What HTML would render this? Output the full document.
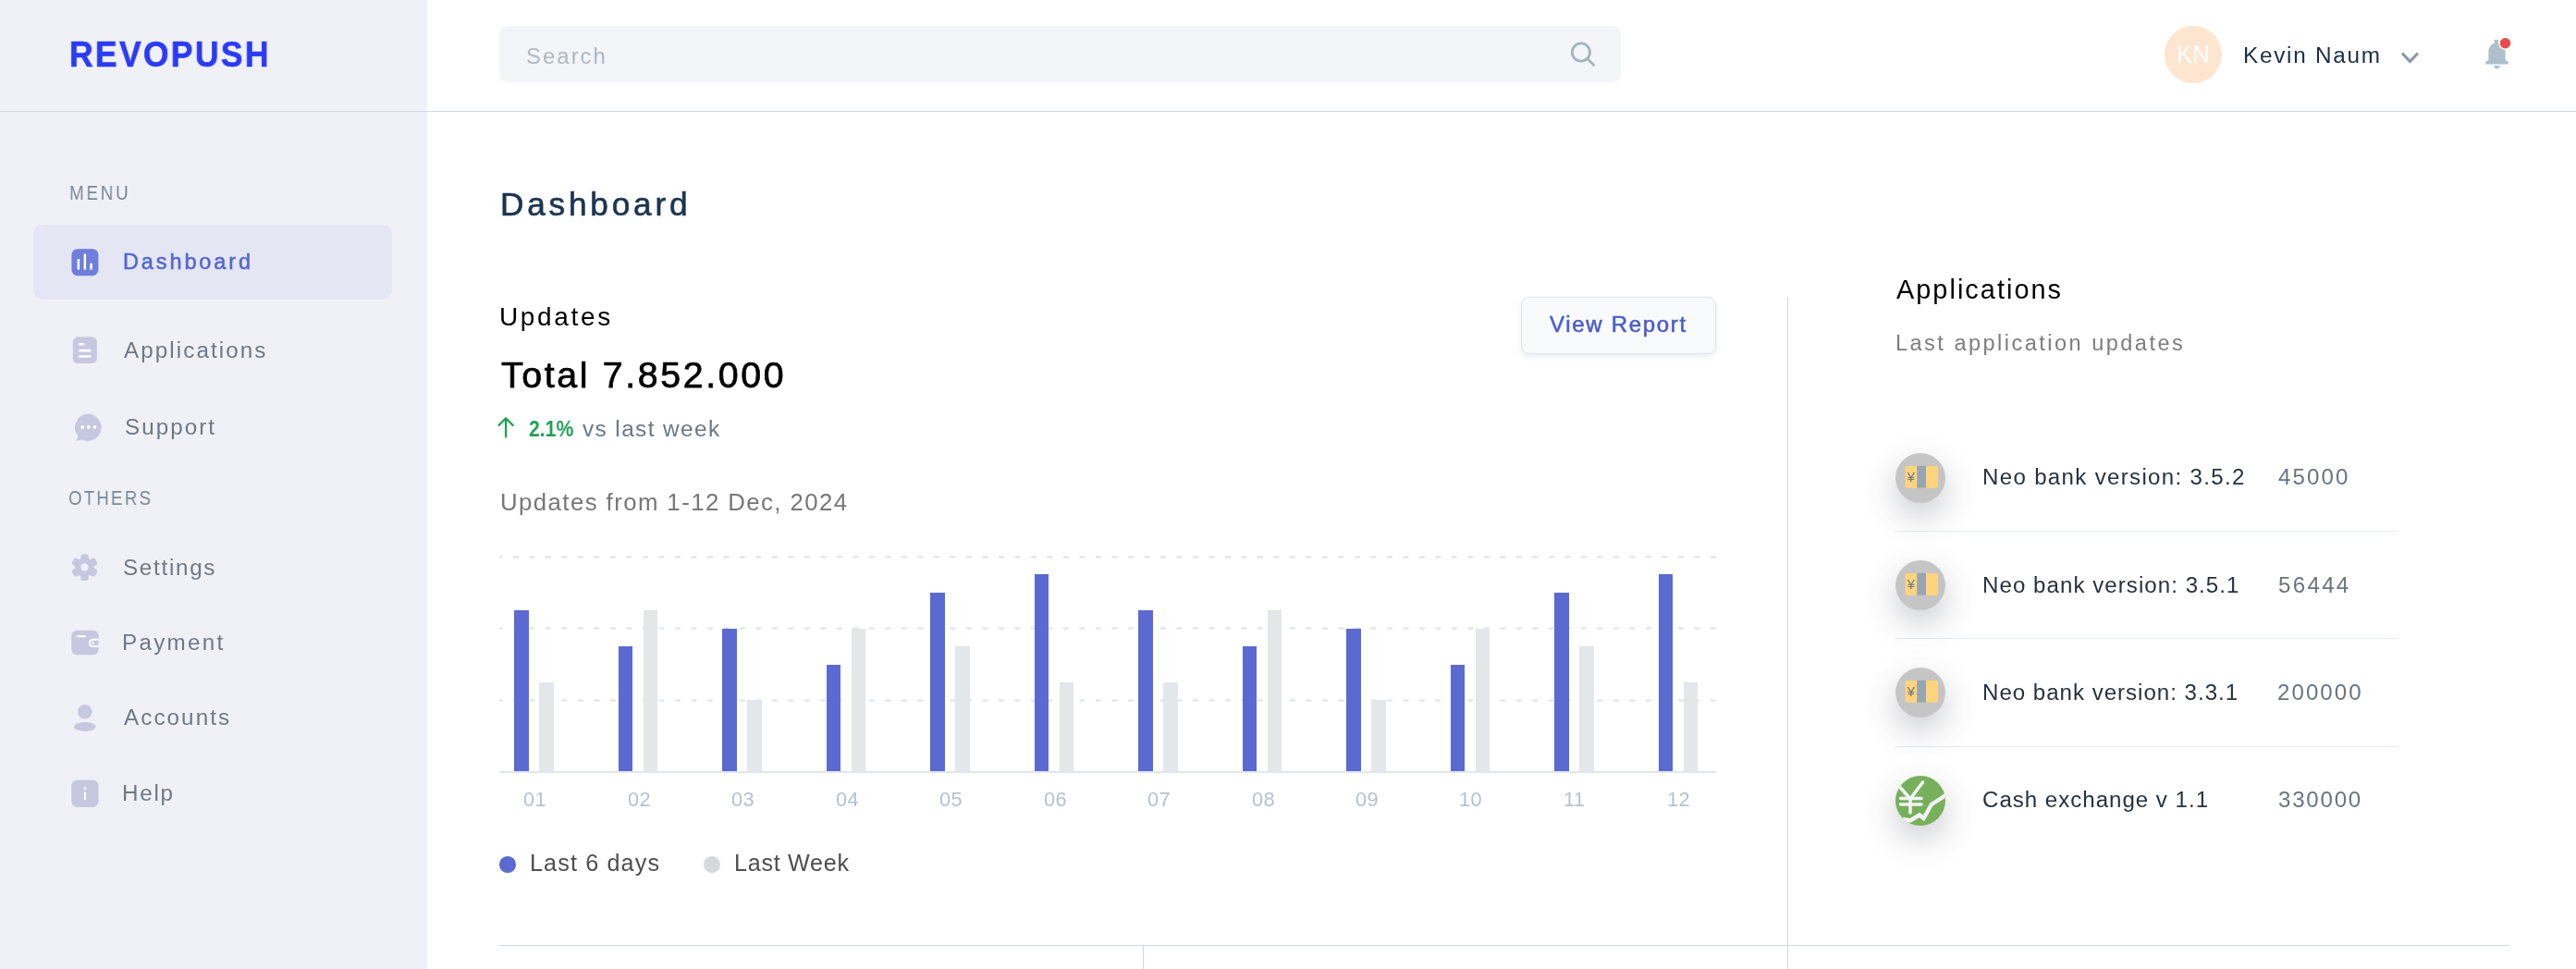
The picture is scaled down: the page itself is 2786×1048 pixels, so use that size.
<!DOCTYPE html>
<html><head><meta charset="utf-8"><title>Revopush Dashboard</title>
<style>
html,body{margin:0;padding:0;}
body{width:2786px;height:1048px;overflow:hidden;position:relative;background:#FFFFFF;font-family:"Liberation Sans",sans-serif;}
.t{position:absolute;white-space:nowrap;will-change:transform;}
.a{position:absolute;}
</style></head><body>
<div class="a" style="left:0;top:0;width:462px;height:1048px;background:#F0F1F6"></div>
<div class="a" style="left:0;top:119.5px;width:2786px;height:1.2px;background:#D3D8E1"></div>
<div class="a" style="left:540px;top:28px;width:1213px;height:61px;border-radius:9px;background:#F3F5F9"></div>
<svg class="a" style="left:1696px;top:42px" width="34" height="34" viewBox="0 0 34 34"><circle cx="13.9" cy="14.5" r="9.6" fill="none" stroke="#A7B4BD" stroke-width="2.8"/><line x1="20.8" y1="21.6" x2="27.6" y2="28.3" stroke="#A7B4BD" stroke-width="2.8" stroke-linecap="round"/></svg>
<div class="a" style="left:2341px;top:27.5px;width:62px;height:62px;border-radius:50%;background:#FDE5CF"></div>
<svg class="a" style="left:2594px;top:52px" width="26" height="20" viewBox="0 0 26 20"><polyline points="4,5.5 12.5,14.5 21,5.5" fill="none" stroke="#8A9AA8" stroke-width="3.2"/></svg>
<svg class="a" style="left:2684px;top:38px" width="40" height="40" viewBox="0 0 40 40"><path d="M13.6,5.1 H17.9 V8.9 C22.5,9.5 25.6,13 25.6,18 V27.3 L28.7,28.4 V31.6 H4.3 V28.4 L7.4,27.3 V18 C7.4,13 10,9.5 13.6,8.9 Z" fill="#AFC0CA"/><path d="M13.2,33 H19.7 A3.25,3.3 0 0 1 13.2,33 Z" fill="#AFC0CA"/><circle cx="25.5" cy="8.7" r="7.2" fill="#FFFFFF"/><circle cx="25.5" cy="8.7" r="5.7" fill="#E94B4B"/></svg>
<div class="a" style="left:36px;top:243px;width:388px;height:81px;border-radius:11px;background:#E4E6F3"></div>
<svg class="a" style="left:77px;top:269px" width="30" height="30" viewBox="0 0 30 30"><rect x="0.4" y="0.2" width="29" height="29" rx="6.5" fill="#6E7EDB"/><rect x="6.6" y="11" width="2.5" height="11.7" rx="0.6" fill="#fff"/><rect x="13.6" y="5.6" width="2.5" height="17.1" rx="0.6" fill="#fff"/><rect x="20.3" y="15.7" width="2.6" height="7" rx="0.6" fill="#fff"/></svg>
<svg class="a" style="left:78px;top:364px" width="28" height="30" viewBox="0 0 28 30"><rect x="0.8" y="0.3" width="26" height="28.6" rx="5.5" fill="#C6C8E0"/><rect x="6.8" y="7" width="6.5" height="2.6" rx="1.3" fill="#fff"/><rect x="6.8" y="13.8" width="13.8" height="2.6" rx="1.3" fill="#fff"/><rect x="6.8" y="20.2" width="13.8" height="2.6" rx="1.3" fill="#fff"/></svg>
<svg class="a" style="left:80px;top:447px" width="32" height="32" viewBox="0 0 32 32"><path d="M15.8,0.6 A14.7,14.7 0 1 1 8.5,28.5 L2.3,30 L4.6,24.8 A14.7,14.7 0 0 1 15.8,0.6 Z" fill="#C6C8E0"/><circle cx="9.2" cy="15" r="1.9" fill="#fff"/><circle cx="15.8" cy="15" r="1.9" fill="#fff"/><circle cx="22.4" cy="15" r="1.9" fill="#fff"/></svg>
<svg class="a" style="left:77px;top:599px" width="30" height="30" viewBox="0 0 30 30"><g fill="#C6C8E0" transform="translate(14.5 14.6)"><rect x="-4.2" y="-14.4" width="8.4" height="9" rx="2.6" transform="rotate(0)"/><rect x="-4.2" y="-14.4" width="8.4" height="9" rx="2.6" transform="rotate(60)"/><rect x="-4.2" y="-14.4" width="8.4" height="9" rx="2.6" transform="rotate(120)"/><rect x="-4.2" y="-14.4" width="8.4" height="9" rx="2.6" transform="rotate(180)"/><rect x="-4.2" y="-14.4" width="8.4" height="9" rx="2.6" transform="rotate(240)"/><rect x="-4.2" y="-14.4" width="8.4" height="9" rx="2.6" transform="rotate(300)"/><circle r="10.3"/></g><circle cx="14.5" cy="14.6" r="4.1" fill="#F0F1F6"/></svg>
<svg class="a" style="left:77px;top:681px" width="30" height="28" viewBox="0 0 30 28"><rect x="0.2" y="0.7" width="29.4" height="26.5" rx="6" fill="#C6C8E0"/><rect x="6" y="6.3" width="10" height="2" rx="1" fill="#fff"/><path d="M29.6,10.8 H23.5 a3.6,3.6 0 0 0 0,7.2 H29.6" fill="none" stroke="#fff" stroke-width="2"/><circle cx="23.5" cy="14.4" r="1.2" fill="#fff"/></svg>
<svg class="a" style="left:77px;top:760px" width="30" height="34" viewBox="0 0 30 34"><circle cx="14.8" cy="9.8" r="7.7" fill="#C6C8E0"/><ellipse cx="14.8" cy="26" rx="11.8" ry="5" fill="#C6C8E0"/></svg>
<svg class="a" style="left:77px;top:843px" width="30" height="31" viewBox="0 0 30 31"><rect x="0.2" y="0.6" width="29.4" height="29.4" rx="6.5" fill="#C6C8E0"/><circle cx="14.9" cy="9.8" r="1.4" fill="#fff"/><rect x="13.95" y="13" width="1.9" height="9.2" rx="0.9" fill="#fff"/></svg>
<svg class="a" style="left:535px;top:448px" width="24" height="28" viewBox="0 0 24 28"><path d="M12.1,4.5 V24.5 M4.5,12 L12.1,4.2 L19.7,12" fill="none" stroke="#1FA055" stroke-width="2.3" stroke-linecap="round" stroke-linejoin="round"/></svg>
<svg class="a" style="left:540px;top:600.5px" width="1316" height="3"><line x1="0" y1="1.5" x2="1316" y2="1.5" stroke="#DDE3E5" stroke-width="2" stroke-dasharray="6 11.5" stroke-dashoffset="2.6"/></svg>
<svg class="a" style="left:540px;top:678.0px" width="1316" height="3"><line x1="0" y1="1.5" x2="1316" y2="1.5" stroke="#DDE3E5" stroke-width="2" stroke-dasharray="6 11.5" stroke-dashoffset="2.6"/></svg>
<svg class="a" style="left:540px;top:755.5px" width="1316" height="3"><line x1="0" y1="1.5" x2="1316" y2="1.5" stroke="#DDE3E5" stroke-width="2" stroke-dasharray="6 11.5" stroke-dashoffset="2.6"/></svg>
<div class="a" style="left:540px;top:834px;width:1316px;height:2px;background:#E1E6E8"></div>
<div class="a" style="left:556.0px;top:660.2px;width:15.5px;height:173.8px;background:#5B6AD0"></div>
<div class="a" style="left:583.3px;top:737.9px;width:15.5px;height:96.1px;background:#E5E6EA"></div>
<div class="a" style="left:668.5px;top:699.0px;width:15.5px;height:135.0px;background:#5B6AD0"></div>
<div class="a" style="left:695.8px;top:660.2px;width:15.5px;height:173.8px;background:#E5E6EA"></div>
<div class="a" style="left:781.0px;top:679.6px;width:15.5px;height:154.4px;background:#5B6AD0"></div>
<div class="a" style="left:808.3px;top:757.3px;width:15.5px;height:76.7px;background:#E5E6EA"></div>
<div class="a" style="left:893.5px;top:718.5px;width:15.5px;height:115.5px;background:#5B6AD0"></div>
<div class="a" style="left:920.8px;top:679.6px;width:15.5px;height:154.4px;background:#E5E6EA"></div>
<div class="a" style="left:1006.0px;top:640.8px;width:15.5px;height:193.2px;background:#5B6AD0"></div>
<div class="a" style="left:1033.3px;top:699.0px;width:15.5px;height:135.0px;background:#E5E6EA"></div>
<div class="a" style="left:1118.5px;top:621.3px;width:15.5px;height:212.7px;background:#5B6AD0"></div>
<div class="a" style="left:1145.8px;top:737.9px;width:15.5px;height:96.1px;background:#E5E6EA"></div>
<div class="a" style="left:1231.0px;top:660.2px;width:15.5px;height:173.8px;background:#5B6AD0"></div>
<div class="a" style="left:1258.3px;top:737.9px;width:15.5px;height:96.1px;background:#E5E6EA"></div>
<div class="a" style="left:1343.5px;top:699.0px;width:15.5px;height:135.0px;background:#5B6AD0"></div>
<div class="a" style="left:1370.8px;top:660.2px;width:15.5px;height:173.8px;background:#E5E6EA"></div>
<div class="a" style="left:1456.0px;top:679.6px;width:15.5px;height:154.4px;background:#5B6AD0"></div>
<div class="a" style="left:1483.3px;top:757.3px;width:15.5px;height:76.7px;background:#E5E6EA"></div>
<div class="a" style="left:1568.5px;top:718.5px;width:15.5px;height:115.5px;background:#5B6AD0"></div>
<div class="a" style="left:1595.8px;top:679.6px;width:15.5px;height:154.4px;background:#E5E6EA"></div>
<div class="a" style="left:1681.0px;top:640.8px;width:15.5px;height:193.2px;background:#5B6AD0"></div>
<div class="a" style="left:1708.3px;top:699.0px;width:15.5px;height:135.0px;background:#E5E6EA"></div>
<div class="a" style="left:1793.5px;top:621.3px;width:15.5px;height:212.7px;background:#5B6AD0"></div>
<div class="a" style="left:1820.8px;top:737.9px;width:15.5px;height:96.1px;background:#E5E6EA"></div>
<div class="a" style="left:540px;top:926px;width:17.6px;height:17.6px;border-radius:50%;background:#5B6AD0"></div>
<div class="a" style="left:761.4px;top:926px;width:17.6px;height:17.6px;border-radius:50%;background:#D6D8DC"></div>
<div class="a" style="left:1645px;top:321px;width:209px;height:60px;border-radius:9px;border:1.2px solid #DCE3F0;background:#F9FAFC;box-shadow:0 3px 6px rgba(30,40,60,0.08)"></div>
<div class="a" style="left:1933px;top:321px;width:1.2px;height:727px;background:#CFD5E4"></div>
<div class="a" style="left:540px;top:1021.6px;width:2174px;height:1.2px;background:#CDD5DE"></div>
<div class="a" style="left:1236px;top:1022px;width:1.2px;height:26px;background:#CDD5DE"></div>
<div class="a" style="left:2050px;top:573.9px;width:543px;height:1.2px;background:#E5EAF0"></div>
<div class="a" style="left:2050px;top:690.1px;width:543px;height:1.2px;background:#E5EAF0"></div>
<div class="a" style="left:2050px;top:806.6px;width:543px;height:1.2px;background:#E5EAF0"></div>
<div class="a" style="left:2050px;top:489.5px;width:54.2px;height:54.2px;border-radius:50%;background:#C5C5C5;box-shadow:0 14px 34px rgba(60,65,80,0.28)"></div>
<svg class="a" style="left:2059px;top:501.5px" width="40" height="28" viewBox="0 0 40 28"><rect x="1.6" y="1.9" width="35.4" height="23.8" rx="2" fill="#FFD47C"/><rect x="14.2" y="1.9" width="9.8" height="23.8" fill="#97A6B3"/><text x="7.6" y="18.6" font-family="Liberation Sans" font-size="15" fill="#6E7A85" text-anchor="middle">&#165;</text></svg>
<div class="a" style="left:2050px;top:605.7px;width:54.2px;height:54.2px;border-radius:50%;background:#C5C5C5;box-shadow:0 14px 34px rgba(60,65,80,0.28)"></div>
<svg class="a" style="left:2059px;top:617.7px" width="40" height="28" viewBox="0 0 40 28"><rect x="1.6" y="1.9" width="35.4" height="23.8" rx="2" fill="#FFD47C"/><rect x="14.2" y="1.9" width="9.8" height="23.8" fill="#97A6B3"/><text x="7.6" y="18.6" font-family="Liberation Sans" font-size="15" fill="#6E7A85" text-anchor="middle">&#165;</text></svg>
<div class="a" style="left:2050px;top:722.1px;width:54.2px;height:54.2px;border-radius:50%;background:#C5C5C5;box-shadow:0 14px 34px rgba(60,65,80,0.28)"></div>
<svg class="a" style="left:2059px;top:734.1px" width="40" height="28" viewBox="0 0 40 28"><rect x="1.6" y="1.9" width="35.4" height="23.8" rx="2" fill="#FFD47C"/><rect x="14.2" y="1.9" width="9.8" height="23.8" fill="#97A6B3"/><text x="7.6" y="18.6" font-family="Liberation Sans" font-size="15" fill="#6E7A85" text-anchor="middle">&#165;</text></svg>
<div class="a" style="left:2050px;top:838.7px;width:54.2px;height:54.2px;border-radius:50%;background:#77B05A;box-shadow:0 14px 34px rgba(60,65,80,0.28)"></div>
<svg class="a" style="left:2050px;top:838.7px" width="55" height="55" viewBox="0 0 55 55"><defs><clipPath id="cc"><circle cx="27.1" cy="27.1" r="27.1"/></clipPath></defs><g clip-path="url(#cc)"><path d="M4.5,12 L16,25 L29.5,7" fill="none" stroke="#F2F3F6" stroke-width="3.6" stroke-linecap="round"/><path d="M5.5,24.5 H28 M5.5,31 H28 M16,25 V40" fill="none" stroke="#F2F3F6" stroke-width="3.6" stroke-linecap="round"/><path d="M8,47 L16,48.5 L26,42.5 L30.5,46 L39,31 L56,20" fill="none" stroke="#F2F3F6" stroke-width="4.4"/></g></svg>
<div class="t" style="left:74.9px;top:39.0px;font-size:39.57px;line-height:39.57px;letter-spacing:2.49px;color:#2B3BF5;font-weight:bold;-webkit-text-stroke:0.6px #2B3BF5;transform:scaleX(0.900);transform-origin:0 0;">REVOPUSH</div>
<div class="t" style="left:569.4px;top:49.0px;font-size:23.92px;line-height:23.92px;letter-spacing:2.03px;color:#AEB8C3;font-weight:normal;">Search</div>
<div class="t" style="left:75.0px;top:198.0px;font-size:21.88px;line-height:21.88px;letter-spacing:3.20px;color:#798894;font-weight:normal;transform:scaleX(0.860);transform-origin:0 0;">MENU</div>
<div class="t" style="left:133.0px;top:272.0px;font-size:23.52px;line-height:23.52px;letter-spacing:2.88px;color:#5566CF;font-weight:normal;-webkit-text-stroke:0.55px #5566CF;">Dashboard</div>
<div class="t" style="left:133.8px;top:367.0px;font-size:24.22px;line-height:24.22px;letter-spacing:2.07px;color:#6E7886;font-weight:normal;">Applications</div>
<div class="t" style="left:134.8px;top:450.0px;font-size:24.22px;line-height:24.22px;letter-spacing:2.02px;color:#6E7886;font-weight:normal;">Support</div>
<div class="t" style="left:74.2px;top:528.0px;font-size:21.74px;line-height:21.74px;letter-spacing:2.57px;color:#798894;font-weight:normal;transform:scaleX(0.860);transform-origin:0 0;">OTHERS</div>
<div class="t" style="left:132.8px;top:602.0px;font-size:24.22px;line-height:24.22px;letter-spacing:1.71px;color:#6E7886;font-weight:normal;">Settings</div>
<div class="t" style="left:132.4px;top:683.0px;font-size:24.22px;line-height:24.22px;letter-spacing:2.29px;color:#6E7886;font-weight:normal;">Payment</div>
<div class="t" style="left:134.0px;top:764.0px;font-size:24.22px;line-height:24.22px;letter-spacing:2.07px;color:#6E7886;font-weight:normal;">Accounts</div>
<div class="t" style="left:132.4px;top:846.0px;font-size:24.22px;line-height:24.22px;letter-spacing:1.72px;color:#6E7886;font-weight:normal;">Help</div>
<div class="t" style="left:540.9px;top:203.0px;font-size:35.20px;line-height:35.20px;letter-spacing:3.79px;color:#1B3550;font-weight:normal;-webkit-text-stroke:0.65px #1B3550;">Dashboard</div>
<div class="t" style="left:540.0px;top:329.0px;font-size:28.01px;line-height:28.01px;letter-spacing:2.65px;color:#000000;font-weight:normal;">Updates</div>
<div class="t" style="left:541.5px;top:386.0px;font-size:39.32px;line-height:39.32px;letter-spacing:2.62px;color:#000000;font-weight:normal;-webkit-text-stroke:0.75px #000000;">Total 7.852.000</div>
<div class="t" style="left:572.1px;top:452.0px;font-size:24.41px;line-height:24.41px;letter-spacing:0.00px;color:#1FA055;font-weight:bold;transform:scaleX(0.868);transform-origin:0 0;">2.1%</div>
<div class="t" style="left:630.4px;top:452.0px;font-size:24.41px;line-height:24.41px;letter-spacing:1.38px;color:#6B7788;font-weight:normal;">vs last week</div>
<div class="t" style="left:541.0px;top:531.0px;font-size:25.79px;line-height:25.79px;letter-spacing:1.42px;color:#777777;font-weight:normal;">Updates from 1-12 Dec, 2024</div>
<div class="t" style="left:572.7px;top:921.0px;font-size:25.15px;line-height:25.15px;letter-spacing:1.14px;color:#4E4E4E;font-weight:normal;">Last 6 days</div>
<div class="t" style="left:793.5px;top:921.0px;font-size:25.15px;line-height:25.15px;letter-spacing:0.72px;color:#4E4E4E;font-weight:normal;">Last Week</div>
<div class="t" style="left:1675.9px;top:339.0px;font-size:23.97px;line-height:23.97px;letter-spacing:1.70px;color:#4A5DC8;font-weight:normal;-webkit-text-stroke:0.55px #4A5DC8;">View Report</div>
<div class="t" style="left:2050.8px;top:299.0px;font-size:28.83px;line-height:28.83px;letter-spacing:2.05px;color:#000000;font-weight:normal;">Applications</div>
<div class="t" style="left:2050.4px;top:360.0px;font-size:23.51px;line-height:23.51px;letter-spacing:2.49px;color:#7D7D7D;font-weight:normal;">Last application updates</div>
<div class="t" style="left:2143.7px;top:504.0px;font-size:24.08px;line-height:24.08px;letter-spacing:1.32px;color:#27313E;font-weight:normal;">Neo bank version: 3.5.2</div>
<div class="t" style="left:2464.2px;top:504.0px;font-size:24.08px;line-height:24.08px;letter-spacing:2.12px;color:#6B737E;font-weight:normal;">45000</div>
<div class="t" style="left:2143.7px;top:621.0px;font-size:24.08px;line-height:24.08px;letter-spacing:1.05px;color:#27313E;font-weight:normal;">Neo bank version: 3.5.1</div>
<div class="t" style="left:2464.2px;top:621.0px;font-size:24.08px;line-height:24.08px;letter-spacing:2.32px;color:#6B737E;font-weight:normal;">56444</div>
<div class="t" style="left:2143.7px;top:737.0px;font-size:24.08px;line-height:24.08px;letter-spacing:0.99px;color:#27313E;font-weight:normal;">Neo bank version: 3.3.1</div>
<div class="t" style="left:2462.9px;top:737.0px;font-size:24.08px;line-height:24.08px;letter-spacing:2.06px;color:#6B737E;font-weight:normal;">200000</div>
<div class="t" style="left:2143.7px;top:853.0px;font-size:24.08px;line-height:24.08px;letter-spacing:0.99px;color:#27313E;font-weight:normal;">Cash exchange v 1.1</div>
<div class="t" style="left:2463.9px;top:853.0px;font-size:24.08px;line-height:24.08px;letter-spacing:1.78px;color:#6B737E;font-weight:normal;">330000</div>
<div class="t" style="left:2354.4px;top:45.0px;font-size:27.39px;line-height:27.39px;letter-spacing:0.00px;color:#FFFFFF;font-weight:normal;transform:scaleX(0.940);transform-origin:0 0;">KN</div>
<div class="t" style="left:2425.8px;top:48.0px;font-size:24.32px;line-height:24.32px;letter-spacing:1.72px;color:#1B2F45;font-weight:normal;">Kevin Naum</div>
<div class="t" style="left:566.0px;top:854.0px;font-size:21.78px;line-height:21.78px;letter-spacing:0.30px;color:#B9C0CA;font-weight:normal;">01</div>
<div class="t" style="left:678.5px;top:854.0px;font-size:21.78px;line-height:21.78px;letter-spacing:0.30px;color:#B9C0CA;font-weight:normal;">02</div>
<div class="t" style="left:791.0px;top:854.0px;font-size:21.78px;line-height:21.78px;letter-spacing:0.30px;color:#B9C0CA;font-weight:normal;">03</div>
<div class="t" style="left:903.5px;top:854.0px;font-size:21.78px;line-height:21.78px;letter-spacing:0.30px;color:#B9C0CA;font-weight:normal;">04</div>
<div class="t" style="left:1016.0px;top:854.0px;font-size:21.78px;line-height:21.78px;letter-spacing:0.30px;color:#B9C0CA;font-weight:normal;">05</div>
<div class="t" style="left:1128.5px;top:854.0px;font-size:21.78px;line-height:21.78px;letter-spacing:0.30px;color:#B9C0CA;font-weight:normal;">06</div>
<div class="t" style="left:1241.0px;top:854.0px;font-size:21.78px;line-height:21.78px;letter-spacing:0.30px;color:#B9C0CA;font-weight:normal;">07</div>
<div class="t" style="left:1353.5px;top:854.0px;font-size:21.78px;line-height:21.78px;letter-spacing:0.30px;color:#B9C0CA;font-weight:normal;">08</div>
<div class="t" style="left:1466.0px;top:854.0px;font-size:21.78px;line-height:21.78px;letter-spacing:0.30px;color:#B9C0CA;font-weight:normal;">09</div>
<div class="t" style="left:1578.0px;top:854.0px;font-size:21.78px;line-height:21.78px;letter-spacing:0.30px;color:#B9C0CA;font-weight:normal;">10</div>
<div class="t" style="left:1691.3px;top:854.0px;font-size:21.78px;line-height:21.78px;letter-spacing:0.30px;color:#B9C0CA;font-weight:normal;">11</div>
<div class="t" style="left:1803.0px;top:854.0px;font-size:21.78px;line-height:21.78px;letter-spacing:0.30px;color:#B9C0CA;font-weight:normal;">12</div>
</body></html>
